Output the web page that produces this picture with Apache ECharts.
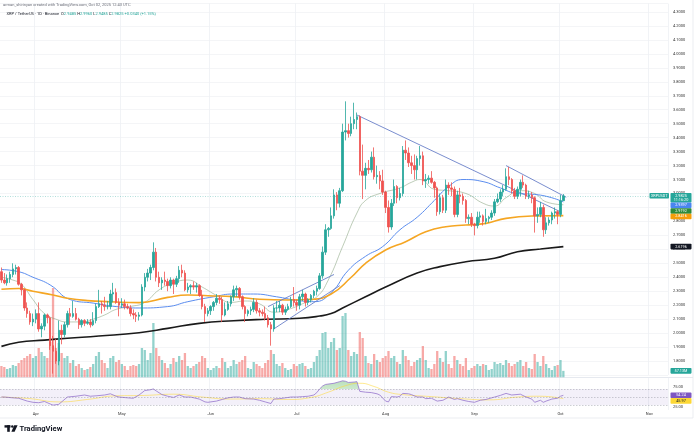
<!DOCTYPE html>
<html><head><meta charset="utf-8">
<script src="https://cdn.jsdelivr.net/npm/echarts@6/dist/echarts.min.js"></script>
<style>html,body{margin:0;padding:0;background:#fff;}#c{width:696px;height:439px;}</style>
</head><body><div id="c"></div>
<script>
// ---------- categories ----------
const firstDay = '2025-03-20';
const lastDay = '2025-11-07';
const monthNames = ['Jan','Feb','Mar','Apr','May','Jun','Jul','Aug','Sep','Oct','Nov','Dec'];
const priceTicks = { min: 1.7, max: 4.36, step: 0.1 };
const rsiTicks = [25, 75];

// ---------- daily candles [open, high, low, close] from Mar 20 ----------
const candles = [
[2.44,2.47,2.36,2.38],[2.38,2.43,2.35,2.36],[2.36,2.42,2.34,2.39],[2.39,2.44,2.36,2.42],[2.42,2.50,2.40,2.46],[2.46,2.49,2.42,2.47],
[2.47,2.48,2.34,2.35],[2.35,2.36,2.27,2.31],[2.31,2.32,2.16,2.18],[2.18,2.22,2.11,2.14],[2.14,2.16,2.06,2.08],[2.08,2.14,2.05,2.10],
// Apr
[2.10,2.17,2.07,2.14],[2.14,2.22,2.01,2.03],[2.03,2.07,1.97,2.05],[2.05,2.14,2.02,2.13],[2.13,2.14,2.07,2.11],[2.11,2.12,1.88,1.91],
[1.91,1.98,1.71,1.87],[1.87,1.96,1.78,1.80],[1.80,2.09,1.77,2.02],[2.02,2.06,1.92,1.99],[1.99,2.08,1.97,2.06],[2.06,2.16,2.04,2.14],
[2.14,2.18,2.06,2.12],[2.12,2.23,2.11,2.14],[2.14,2.18,2.09,2.10],[2.10,2.11,2.03,2.06],[2.06,2.10,2.04,2.09],[2.09,2.10,2.05,2.07],
[2.07,2.10,2.06,2.08],[2.08,2.10,2.04,2.06],[2.06,2.15,2.05,2.09],[2.09,2.21,2.07,2.19],[2.19,2.31,2.18,2.21],[2.21,2.23,2.14,2.20],
[2.20,2.26,2.16,2.19],[2.19,2.23,2.17,2.19],[2.19,2.31,2.17,2.28],[2.28,2.36,2.22,2.29],[2.29,2.32,2.21,2.22],[2.22,2.25,2.12,2.20],
// May
[2.20,2.25,2.18,2.21],[2.21,2.24,2.17,2.19],[2.19,2.21,2.17,2.18],[2.18,2.20,2.12,2.14],[2.14,2.17,2.10,2.13],[2.13,2.15,2.08,2.12],
[2.12,2.15,2.09,2.13],[2.13,2.35,2.12,2.33],[2.33,2.43,2.30,2.40],[2.40,2.46,2.37,2.43],[2.43,2.49,2.38,2.47],[2.47,2.65,2.45,2.58],
[2.58,2.61,2.37,2.40],[2.40,2.44,2.33,2.36],[2.36,2.40,2.31,2.38],[2.38,2.44,2.34,2.37],[2.37,2.39,2.30,2.34],[2.34,2.40,2.32,2.38],
[2.38,2.39,2.28,2.35],[2.35,2.41,2.33,2.39],[2.39,2.48,2.36,2.45],[2.45,2.49,2.40,2.43],[2.43,2.45,2.30,2.31],[2.31,2.36,2.29,2.33],
[2.33,2.35,2.28,2.34],[2.34,2.37,2.31,2.33],[2.33,2.36,2.29,2.34],[2.34,2.35,2.26,2.27],[2.27,2.31,2.17,2.19],[2.19,2.21,2.08,2.14],
[2.14,2.18,2.12,2.16],
// Jun
[2.16,2.20,2.13,2.19],[2.19,2.23,2.16,2.22],[2.22,2.28,2.20,2.25],[2.25,2.27,2.21,2.24],[2.24,2.26,2.08,2.13],[2.13,2.22,2.12,2.17],
[2.17,2.23,2.16,2.21],[2.21,2.27,2.19,2.26],[2.26,2.34,2.23,2.31],[2.31,2.34,2.26,2.32],[2.32,2.33,2.24,2.26],[2.26,2.27,2.17,2.19],
[2.19,2.20,2.08,2.14],[2.14,2.17,2.12,2.16],[2.16,2.19,2.13,2.17],[2.17,2.25,2.15,2.22],[2.22,2.24,2.14,2.16],[2.16,2.18,2.12,2.15],
[2.15,2.17,2.12,2.14],[2.14,2.19,2.09,2.11],[2.11,2.13,2.04,2.06],[2.06,2.08,1.91,2.03],[2.03,2.20,2.01,2.18],[2.18,2.23,2.15,2.18],
[2.18,2.23,2.15,2.20],[2.20,2.21,2.13,2.15],[2.15,2.19,2.13,2.17],[2.17,2.21,2.16,2.19],[2.19,2.26,2.18,2.24],[2.24,2.33,2.19,2.22],
// Jul
[2.22,2.24,2.16,2.20],[2.20,2.28,2.17,2.26],[2.26,2.31,2.23,2.28],[2.28,2.29,2.19,2.22],[2.22,2.25,2.20,2.24],[2.24,2.28,2.22,2.27],
[2.27,2.31,2.25,2.30],[2.30,2.34,2.27,2.32],[2.32,2.43,2.31,2.41],[2.41,2.62,2.39,2.58],[2.58,2.78,2.56,2.74],[2.74,2.76,2.69,2.75],
[2.75,2.90,2.74,2.84],[2.84,3.03,2.82,2.99],[2.99,3.01,2.88,2.93],[2.93,3.04,2.90,3.02],[3.02,3.50,3.01,3.44],[3.44,3.66,3.38,3.45],
[3.45,3.50,3.40,3.43],[3.43,3.55,3.41,3.50],[3.50,3.65,3.46,3.53],[3.53,3.58,3.46,3.55],[3.55,3.56,3.13,3.16],[3.16,3.35,2.96,3.13],
[3.13,3.22,3.03,3.18],[3.18,3.24,3.14,3.17],[3.17,3.30,3.15,3.26],[3.26,3.33,3.10,3.12],[3.12,3.20,3.07,3.13],[3.13,3.16,3.03,3.09],
[3.09,3.17,2.99,3.01],
// Aug
[3.01,3.02,2.86,2.90],[2.90,2.95,2.72,2.76],[2.76,2.96,2.74,2.93],[2.93,3.10,2.91,3.05],[3.05,3.06,2.93,2.97],[2.97,3.04,2.95,3.00],
[3.00,3.34,2.98,3.31],[3.31,3.38,3.24,3.29],[3.29,3.33,3.19,3.22],[3.22,3.27,3.14,3.20],[3.20,3.28,3.10,3.17],[3.17,3.27,3.10,3.25],
[3.25,3.34,3.20,3.27],[3.27,3.30,3.06,3.09],[3.09,3.14,3.04,3.10],[3.10,3.13,3.07,3.11],[3.11,3.16,3.07,3.08],[3.08,3.09,2.97,3.04],
[3.04,3.05,2.84,2.87],[2.87,3.00,2.85,2.97],[2.97,2.99,2.86,2.88],[2.88,3.10,2.86,3.06],[3.06,3.08,2.99,3.04],[3.04,3.08,2.98,3.03],
[3.03,3.05,2.83,2.85],[2.85,3.02,2.83,2.99],[2.99,3.04,2.93,2.98],[2.98,3.00,2.92,2.95],[2.95,2.96,2.79,2.82],[2.82,2.85,2.78,2.83],
[2.83,2.86,2.76,2.78],
// Sep
[2.78,2.79,2.70,2.77],[2.77,2.87,2.75,2.83],[2.83,2.87,2.79,2.84],[2.84,2.85,2.77,2.80],[2.80,2.89,2.78,2.82],[2.82,2.84,2.79,2.83],
[2.83,2.88,2.81,2.86],[2.86,2.96,2.84,2.94],[2.94,3.00,2.93,2.96],[2.96,3.03,2.94,3.01],[3.01,3.06,2.98,3.03],[3.03,3.18,3.02,3.12],
[3.12,3.19,3.06,3.10],[3.10,3.11,3.00,3.02],[3.02,3.04,2.96,2.98],[2.98,3.05,2.96,3.03],[3.03,3.10,2.98,3.08],[3.08,3.13,3.04,3.06],
[3.06,3.07,2.96,2.98],[2.98,3.02,2.96,2.99],[2.99,3.01,2.93,2.97],[2.97,2.98,2.72,2.84],[2.84,2.90,2.79,2.85],[2.85,2.94,2.83,2.90],
[2.90,2.92,2.69,2.74],[2.74,2.83,2.71,2.79],[2.79,2.83,2.77,2.81],[2.81,2.87,2.78,2.86],[2.86,2.90,2.82,2.87],[2.87,2.88,2.78,2.85],
// Oct
[2.85,2.99,2.83,2.9485],[2.9485,2.9960,2.9485,2.9825]
];

// ---------- daily volume (millions) ----------
const volumes = [
96,88,72,80,104,96,120,144,160,176,192,160,
176,240,208,176,160,288,720,240,280,200,160,176,120,144,96,112,80,64,72,88,112,176,208,144,120,80,160,176,128,144,
112,96,64,96,104,96,112,240,224,144,200,440,240,176,144,120,80,112,160,128,176,144,200,96,80,96,112,128,176,160,80,
64,80,96,80,160,128,80,96,144,112,128,144,176,80,72,128,112,96,80,120,144,224,192,112,96,120,80,64,72,112,
96,112,120,96,72,80,128,176,224,360,368,240,288,320,224,240,496,520,224,176,208,192,368,320,176,120,112,192,144,128,160,
176,216,160,176,128,112,224,176,144,96,128,144,160,256,144,80,72,112,216,160,128,216,112,80,176,144,112,96,160,64,80,
96,112,96,112,104,64,72,128,112,120,104,144,120,96,112,128,144,96,128,80,72,192,128,96,176,112,80,64,96,104,
144,57.13
];

// ---------- moving averages read at sample days [dayIndex, value] ----------
const ma20 = [[0,2.40],[4,2.38],[7,2.35],[11,2.24],[15,2.14],[19,2.10],[23,2.08],[28,2.08],[32,2.10],[36,2.13],[40,2.17],[45,2.19],[50,2.22],[55,2.31],[60,2.36],[65,2.38],[70,2.33],[75,2.27],[80,2.22],[85,2.23],[90,2.21],[95,2.15],[100,2.17],[105,2.21],[110,2.26],[114,2.38],[119,2.62],[124,2.86],[127,2.95],[132,3.00],[139,3.04],[143,3.08],[146,3.10],[151,3.03],[156,3.02],[162,3.00],[168,2.93],[172,2.91],[176,2.97],[181,3.02],[186,3.00],[190,2.94],[196,2.9192]];
const ma50 = [[0,2.455],[6,2.44],[11,2.40],[17,2.345],[24,2.24],[32,2.215],[40,2.19],[48,2.18],[58,2.19],[65,2.225],[74,2.26],[81,2.28],[88,2.28],[96,2.26],[103,2.235],[109,2.225],[115,2.29],[121,2.45],[127,2.55],[133,2.62],[139,2.74],[145,2.83],[151,2.95],[156,3.05],[161,3.10],[168,3.085],[174,3.04],[180,3.00],[185,2.995],[191,2.975],[196,2.9397]];
const ma100 = [[0,2.314],[6,2.32],[11,2.30],[18,2.273],[23,2.25],[30,2.233],[38,2.225],[48,2.218],[58,2.256],[65,2.273],[72,2.268],[81,2.261],[90,2.242],[100,2.237],[108,2.242],[115,2.28],[122,2.40],[127,2.50],[134,2.595],[141,2.655],[148,2.726],[155,2.762],[162,2.774],[169,2.786],[176,2.822],[185,2.839],[196,2.8416]];
const ma200 = [[0,1.905],[6,1.935],[15,1.95],[23,1.963],[34,1.979],[48,2.003],[58,2.034],[69,2.07],[81,2.089],[92,2.099],[104,2.106],[111,2.122],[115,2.14],[119,2.18],[127,2.26],[134,2.33],[145,2.43],[153,2.476],[162,2.511],[172,2.536],[180,2.583],[188,2.602],[196,2.6196]];

// ---------- drawn trendlines [dayIndex, price] ----------
const trendMain = [[124,3.562],[195,2.869]];
const trendShort = [[176,3.20],[197,2.973]];
const channelUpper = [[93,2.19],[116,2.42]];
const channelLower = [[95,2.03],[118,2.34]];

// ---------- RSI (14) and its MA at sample days ----------
const rsi = [[0,50],[1,50],[4,48],[6,47],[9,40],[11,37],[13,36],[15,39],[17,33],[18,30],[20,32],[21,38],[23,50],[26,52],[29,55],[31,52],[33,53],[36,55],[38,58],[40,52],[41,50],[44,48],[46,47],[48,55],[50,66],[52,68],[53,70],[54,65],[56,56],[58,52],[60,49],[62,55],[64,50],[66,50],[69,45],[71,38],[72,37],[75,40],[77,44],[79,48],[81,50],[83,50],[85,46],[88,45],[90,42],[92,38],[93,36],[94,34],[95,45],[97,46],[99,48],[101,50],[103,50],[105,51],[107,52],[109,55],[110,61],[111,70],[112,77],[113,81],[116,84],[118,88],[119,90],[120,89],[121,86],[123,87],[124,88],[125,64],[127,62],[129,61],[131,58],[132,55],[134,40],[135,38],[136,51],[138,50],[139,52],[140,59],[142,58],[143,56],[145,50],[147,50],[148,46],[150,47],[152,40],[154,42],[156,50],[158,44],[159,46],[161,42],[163,39],[165,37],[167,42],[169,44],[172,50],[174,54],[176,59],[178,55],[181,57],[183,50],[185,45],[186,37],[188,42],[189,37],[190,40],[192,45],[194,47],[195,52],[196,54.24]];
const rsiMa = [[0,50],[10,46],[20,38],[30,44],[40,53],[50,54],[60,57],[70,50],[80,45],[90,46],[100,44],[108,49],[114,62],[120,78],[125,84],[130,76],[135,62],[140,56],[150,51],[160,46],[170,43],[180,50],[188,52],[196,45.97]];
const rsiBands = [70, 50, 30];
const rsiRange = { min: 18, max: 97 };

// ---------- texts ----------
const creditText = 'arman_shirinyan created with TradingView.com, Oct 02, 2025 12:43 UTC';
const symbolText = 'XRP / TetherUS · 1D · Binance';
const tickerName = 'XRPUSDT';
const countdown = '11:16:20';

// ================= build =================
const dates = [];
for (let d = new Date(firstDay + 'T00:00:00Z'); d <= new Date(lastDay + 'T00:00:00Z'); d.setUTCDate(d.getUTCDate() + 1)) {
  dates.push(d.toISOString().slice(0, 10));
}
const UP = '#26a69a', DOWN = '#ef5350';
const FONT = 'Roboto, "Liberation Sans", Arial, sans-serif';
const isMonthStart = (i, v) => typeof v === 'string' && v.slice(8) === '01';

const candleData = candles.map(r => [r[0], r[3], r[2], r[1]]);
const volData = volumes.map((v, i) => ({
  value: v,
  itemStyle: { color: (candles[i] && candles[i][3] >= candles[i][0]) ? 'rgba(38,166,154,0.5)' : 'rgba(239,83,80,0.5)' }
}));

const W = 668;
const RSI_TOP = 378, RSI_H = 32;
const grids = [
  { left: 0, width: W, top: 3.6, height: 371.4 },
  { left: 0, width: W, top: 278, height: 100 },
  { left: 0, width: W, top: RSI_TOP, height: RSI_H },
  { left: 0, width: W, top: RSI_TOP, height: RSI_H * (rsiRange.max - 70) / (rsiRange.max - rsiRange.min) }
].map(g => Object.assign({ containLabel: false, outerBoundsMode: 'none', show: false }, g));

function catAxis(gi, showLabel, split) {
  return {
    type: 'category', gridIndex: gi, data: dates, boundaryGap: true,
    axisLine: { show: false }, axisTick: { show: false },
    axisLabel: {
      show: showLabel, interval: isMonthStart, fontSize: 4, color: '#333', margin: 2, fontFamily: FONT,
      formatter: v => monthNames[+v.slice(5, 7) - 1]
    },
    splitLine: { show: split, interval: isMonthStart, lineStyle: { color: '#eef0f4', width: 0.8 } }
  };
}

const lineS = (data, color, width) => ({
  type: 'line', data, xAxisIndex: 0, yAxisIndex: 0, smooth: true, showSymbol: false,
  symbol: 'none', silent: true, z: 4, lineStyle: { color, width }
});
const straight = (data, color) => ({
  type: 'line', data, xAxisIndex: 0, yAxisIndex: 0, showSymbol: false, symbol: 'none', silent: true, z: 5,
  lineStyle: { color, width: 0.9 }
});

const lastC = candles[candles.length - 1];
const prevC = candles[candles.length - 2][3];

const option = {
  animation: false,
  backgroundColor: '#ffffff',
  grid: grids,
  xAxis: [catAxis(0, false, true), catAxis(1, false, false), catAxis(2, true, true), catAxis(3, false, false)],
  yAxis: [
    {
      type: 'value', gridIndex: 0, position: 'right', min: priceTicks.min, max: priceTicks.max, interval: priceTicks.step,
      axisLine: { show: false }, axisTick: { show: false },
      axisLabel: { fontSize: 4, color: '#333', margin: 5, fontFamily: FONT, showMinLabel: false, showMaxLabel: false,
        formatter: v => v.toFixed(4) },
      splitLine: { show: true, lineStyle: { color: '#f1f2f5', width: 0.8 } }
    },
    { type: 'value', gridIndex: 1, min: 0, max: 800, show: false, splitLine: { show: false } },
    {
      type: 'value', gridIndex: 2, position: 'right', min: rsiRange.min, max: rsiRange.max,
      axisLine: { show: false }, axisTick: { show: false },
      axisLabel: { fontSize: 4, color: '#333', margin: 5, fontFamily: FONT, customValues: rsiTicks, formatter: v => v.toFixed(2) },
      splitLine: { show: false }
    },
    { type: 'value', gridIndex: 3, min: 70, max: rsiRange.max, show: false, splitLine: { show: false } }
  ],
  series: [
    {
      type: 'bar', data: volData, xAxisIndex: 1, yAxisIndex: 1, barWidth: '80%', z: 1, silent: true
    },
    {
      type: 'candlestick', data: candleData, xAxisIndex: 0, yAxisIndex: 0, barWidth: 2, z: 6, clip: true,
      itemStyle: { color: UP, color0: DOWN, borderColor: UP, borderColor0: DOWN, borderWidth: 0.8 },
      markLine: {
        silent: true, symbol: ['none', 'none'], label: { show: false },
        lineStyle: { color: 'rgba(38,166,154,0.45)', type: [1, 1.5], width: 0.8 },
        data: [{ yAxis: lastC[3] }]
      }
    },
    lineS(ma20, 'rgba(120,150,110,0.55)', 0.9),
    lineS(ma50, '#5b8def', 1),
    lineS(ma100, '#f5a623', 1.6),
    lineS(ma200, '#1a1a1a', 1.6),
    straight(trendMain, '#6a80c8'),
    straight(trendShort, '#6a80c8'),
    straight(channelUpper, '#6a80c8'),
    straight(channelLower, '#6a80c8'),
    {
      type: 'line', data: rsi, xAxisIndex: 2, yAxisIndex: 2, showSymbol: false, symbol: 'none', silent: true, z: 4,
      lineStyle: { color: '#9575cd', width: 0.8 },
      markArea: { silent: true, itemStyle: { color: 'rgba(126,87,194,0.09)' }, data: [[{ yAxis: 30 }, { yAxis: 70 }]] },
      markLine: { silent: true, symbol: ['none', 'none'], label: { show: false },
        lineStyle: { color: 'rgba(120,123,134,0.6)', type: [1.5, 1.5], width: 0.6 },
        data: rsiBands.map(v => ({ yAxis: v })) }
    },
    {
      type: 'line', data: rsiMa, xAxisIndex: 2, yAxisIndex: 2, smooth: true, showSymbol: false, symbol: 'none', silent: true, z: 3,
      lineStyle: { color: 'rgba(253,216,53,0.7)', width: 0.8 }
    },
    {
      type: 'line', data: rsi, xAxisIndex: 3, yAxisIndex: 3, showSymbol: false, symbol: 'none', silent: true, z: 2,
      lineStyle: { width: 0 },
      areaStyle: { origin: 'start', color: new echarts.graphic.LinearGradient(0, 0, 0, 1, [
        { offset: 0, color: 'rgba(76,175,80,0.55)' }, { offset: 1, color: 'rgba(76,175,80,0.1)' }]) }
    }
  ]
};

const chart = echarts.init(document.getElementById('c'), null, { renderer: 'canvas', width: 696, height: 439 });
chart.setOption(option);

// ---------- right-hand value tags ----------
const py = v => chart.convertToPixel({ yAxisIndex: 0 }, v);
const ry = v => chart.convertToPixel({ yAxisIndex: 2 }, v);
const vy = v => chart.convertToPixel({ yAxisIndex: 1 }, v);
const g = [];
const TX = 670.5, TW = 21, TH = 5.6;

function tag(top, fill, lines, textColor, x, w, h) {
  x = x == null ? TX : x; w = w || TW; h = h || TH;
  g.push({ type: 'rect', shape: { x: x, y: top, width: w, height: h, r: 0.8 }, style: { fill: fill }, z: 100 });
  lines.forEach((t, k) => g.push({ type: 'text', z: 101, style: {
    text: t, x: x + w / 2, y: top + 2.8 + k * 4.2, fill: textColor || '#fff', fontSize: 3.8, fontFamily: FONT,
    align: 'center', verticalAlign: 'middle' } }));
}

const lastOf = a => a[a.length - 1][1];
const stackItems = [
  { y: py(lastC[3]), h: 9.6, off: 3, kind: 'price' },
  { y: py(lastOf(ma50)), h: TH, fill: '#4a86f0', val: lastOf(ma50) },
  { y: py(lastOf(ma20)), h: TH, fill: '#2e8b3c', val: lastOf(ma20) },
  { y: py(lastOf(ma100)), h: TH, fill: '#f59e0b', val: lastOf(ma100) }
].sort((a, b) => a.y - b.y);
let prevBottom = -1e9;
stackItems.forEach(it => {
  let top = it.y - (it.off != null ? it.off : it.h / 2);
  if (top < prevBottom) top = prevBottom;
  prevBottom = top + it.h;
  if (it.kind === 'price') {
    tag(top, UP, [lastC[3].toFixed(4), countdown], '#fff', TX, TW, it.h);
    tag(top, UP, [tickerName], '#fff', 649.5, 19.5, TH);
  } else {
    tag(top, it.fill, [it.val.toFixed(4)]);
  }
});
tag(py(lastOf(ma200)) - TH / 2, '#131722', [lastOf(ma200).toFixed(4)]);
tag(vy(volumes[volumes.length - 1]) - TH / 2, UP, [volumes[volumes.length - 1].toFixed(2) + 'M']);

// RSI tags
let rTop1 = ry(lastOf(rsi)) - TH / 2;
tag(rTop1, '#7e57c2', [lastOf(rsi).toFixed(2)]);
let rTop2 = Math.max(ry(lastOf(rsiMa)) - TH / 2, rTop1 + TH);
tag(rTop2, '#fdd835', [lastOf(rsiMa).toFixed(2)], '#131722');

// frame lines
g.push({ type: 'line', shape: { x1: 0, y1: 377.5, x2: 693, y2: 377.5 }, style: { stroke: '#e0e3eb', lineWidth: 0.8 }, z: 50 });
g.push({ type: 'line', shape: { x1: 0, y1: 418, x2: 693, y2: 418 }, style: { stroke: '#e6e8ee', lineWidth: 0.8 }, z: 50 });
g.push({ type: 'line', shape: { x1: 693, y1: 0, x2: 693, y2: 418 }, style: { stroke: '#e6e8ee', lineWidth: 0.8 }, z: 50 });

// header
const chg = lastC[3] - prevC;
g.push({ type: 'text', z: 60, style: { text: creditText, x: 3, y: 5, fill: '#6a6d78', fontSize: 4, fontFamily: FONT, align: 'left', verticalAlign: 'middle' } });
g.push({ type: 'text', z: 60, style: {
  text: '{a|' + symbolText + '}  {a|O}{b|' + lastC[0].toFixed(4) + '} {a|H}{b|' + lastC[1].toFixed(4) + '} {a|L}{b|' + lastC[2].toFixed(4) +
        '} {a|C}{b|' + lastC[3].toFixed(4) + '} {b|' + (chg >= 0 ? '+' : '') + chg.toFixed(4) + ' (' + (chg >= 0 ? '+' : '') + (chg / prevC * 100).toFixed(2) + '%)}',
  x: 6.5, y: 14, fontSize: 4, fontFamily: FONT, align: 'left', verticalAlign: 'middle',
  rich: { a: { fill: '#131722', fontSize: 4, fontFamily: FONT }, b: { fill: UP, fontSize: 4, fontFamily: FONT } }
} });

// TradingView logo
g.push({ type: 'rect', z: 60, shape: { x: 4.5, y: 425.2, width: 6, height: 2.4 }, style: { fill: '#131722' } });
g.push({ type: 'rect', z: 60, shape: { x: 7.2, y: 425.2, width: 2.6, height: 6.6 }, style: { fill: '#131722' } });
g.push({ type: 'circle', z: 60, shape: { cx: 12.3, cy: 426.4, r: 1.25 }, style: { fill: '#131722' } });
g.push({ type: 'polygon', z: 60, shape: { points: [[14.2, 425.2], [17.6, 425.2], [14.6, 431.8], [11.4, 431.8]] }, style: { fill: '#131722' } });
g.push({ type: 'text', z: 60, style: { text: 'TradingView', x: 19.5, y: 428.6, fill: '#131722', fontSize: 7.6, fontWeight: 'bold', fontFamily: FONT, align: 'left', verticalAlign: 'middle' } });

chart.setOption({ graphic: g });
</script>
</body></html>
